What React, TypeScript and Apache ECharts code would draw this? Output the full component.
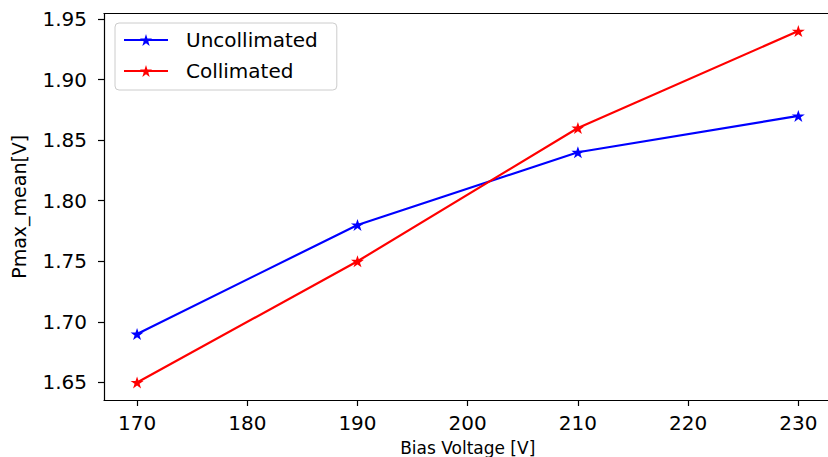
import React, { useEffect, useRef } from "react";
import * as echarts from "echarts";

const biasVoltage = [170, 190, 210, 230];
const uncollimated = [1.69, 1.78, 1.84, 1.87];
const collimated = [1.65, 1.75, 1.86, 1.94];
const xTicks = [170, 180, 190, 200, 210, 220, 230];
const yTicks = [1.65, 1.7, 1.75, 1.8, 1.85, 1.9, 1.95];

const STAR =
  "path://M0,-100L22.45,-30.9L95.11,-30.9L36.33,11.8L58.78,80.9L0,38.2L-58.78,80.9L-36.33,11.8L-95.11,-30.9L-22.45,-30.9Z";

const FONT = "DejaVu Sans";

export default function App() {
  const ref = useRef<HTMLDivElement>(null);
  useEffect(() => {
    if (!ref.current) return;
    const chart = echarts.init(ref.current, null, { renderer: "svg" });
    const mk = (arr: number[]) => biasVoltage.map((x, i) => [x, arr[i]]);
    chart.setOption({
      animation: false,
      backgroundColor: "#fff",
      textStyle: { fontFamily: FONT },
      grid: {
        show: false,
        left: 104,
        top: 13.5,
        width: 727.4,
        height: 386.5,
        containLabel: false,
        outerBoundsMode: "none",
      },
      legend: {
        left: 115,
        top: 23,
        orient: "vertical",
        itemWidth: 44,
        itemHeight: 15,
        itemGap: 11,
        padding: [7, 19, 9, 8],
        borderColor: "#cccccc",
        borderWidth: 1,
        borderRadius: 4,
        backgroundColor: "rgba(255,255,255,0.8)",
        textStyle: {
          fontFamily: FONT,
          fontSize: 20,
          color: "#000",
          lineHeight: 20,
          padding: [0, 0, 0, 13],
        },
        data: ["Uncollimated", "Collimated"],
      },
      xAxis: [
        {
          type: "value",
          min: 167,
          max: 233,
          position: "bottom",
          name: "Bias Voltage [V]",
          nameLocation: "middle",
          nameGap: 39,
          nameTextStyle: { fontFamily: FONT, fontSize: 17, color: "#000" },
          axisLine: { show: true, lineStyle: { color: "#000", width: 1.2 } },
          axisTick: {
            show: true,
            inside: false,
            length: 6,
            lineStyle: { color: "#000", width: 1.2 },
            customValues: xTicks,
          },
          axisLabel: {
            show: true,
            margin: 13,
            fontFamily: FONT,
            fontSize: 20,
            color: "#000",
            customValues: xTicks,
            formatter: (v: number) => String(Math.round(v)),
          },
          splitLine: { show: false },
        },
        {
          type: "value",
          min: 167,
          max: 233,
          position: "top",
          axisLine: { show: true, onZero: false, lineStyle: { color: "#000", width: 1.2 } },
          axisTick: { show: false },
          axisLabel: { show: false },
          splitLine: { show: false },
        },
      ],
      yAxis: {
        type: "value",
        min: 1.6355,
        max: 1.9545,
        name: "Pmax_mean[V]",
        nameLocation: "middle",
        nameGap: 76,
        nameTextStyle: { fontFamily: FONT, fontSize: 19, color: "#000" },
        axisLine: { show: true, onZero: false, lineStyle: { color: "#000", width: 1.2 } },
        axisTick: {
          show: true,
          inside: false,
          length: 6,
          lineStyle: { color: "#000", width: 1.2 },
          customValues: yTicks,
        },
        axisLabel: {
          show: true,
          margin: 17,
          fontFamily: FONT,
          fontSize: 20,
          color: "#000",
          customValues: yTicks,
          formatter: (v: number) => v.toFixed(2),
        },
        splitLine: { show: false },
      },
      series: [
        {
          name: "Uncollimated",
          type: "line",
          xAxisIndex: 0,
          data: mk(uncollimated),
          symbol: STAR,
          symbolSize: [13, 12],
          showAllSymbol: true,
          lineStyle: { color: "#0000ff", width: 2.2 },
          itemStyle: { color: "#0000ff" },
          z: 2,
        },
        {
          name: "Collimated",
          type: "line",
          xAxisIndex: 0,
          data: mk(collimated),
          symbol: STAR,
          symbolSize: [13, 12],
          showAllSymbol: true,
          lineStyle: { color: "#ff0000", width: 2.2 },
          itemStyle: { color: "#ff0000" },
          z: 3,
        },
      ],
    });
    return () => chart.dispose();
  }, []);
  return (
    <div
      ref={ref}
      style={{ position: "absolute", left: 0, top: 0, width: 828, height: 457 }}
    />
  );
}
